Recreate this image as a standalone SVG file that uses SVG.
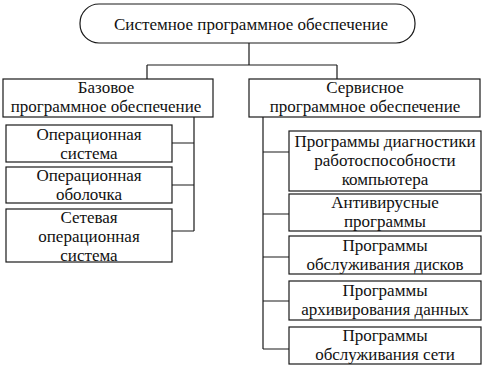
<svg xmlns="http://www.w3.org/2000/svg" width="486" height="372" viewBox="0 0 486 372">
<style>
.b{fill:#fff;stroke:#1a1a1a;stroke-width:1.2}
.t{font-family:"Liberation Serif","Times New Roman","DejaVu Serif",serif;font-size:17px;fill:#111;text-anchor:middle}
.c{fill:none;stroke:#1a1a1a;stroke-width:1.2}
</style>
<rect width="486" height="372" fill="#fff"/>
<g id="connectors">
<path class="c" d="M249,43 V65 M147,65 H337 M147,65 V79 M337,65 V79"/>
<path class="c" d="M194,117 V231 M172,143 H194 M172,185 H194 M172,231 H194"/>
<path class="c" d="M263,117 V349 M263,152 H289 M263,214 H289 M263,257 H289 M263,301 H289 M263,349 H289"/>
</g>
<g id="root"><rect class="b" x="80" y="4" width="335" height="39" rx="19"/><text class="t" x="251" y="30">Системное программное обеспечение</text></g>
<g id="base"><rect class="b" x="3" y="79" width="210" height="38"/><text class="t" x="106" y="93">Базовое</text><text class="t" x="106" y="112">программное обеспечение</text></g>
<g id="service"><rect class="b" x="249" y="79" width="231" height="38"/><text class="t" x="365" y="93">Сервисное</text><text class="t" x="365" y="112">программное обеспечение</text></g>
<g id="os"><rect class="b" x="6" y="125" width="166" height="37"/><text class="t" x="89" y="140">Операционная</text><text class="t" x="89" y="159">система</text></g>
<g id="shell"><rect class="b" x="6" y="167" width="166" height="36"/><text class="t" x="89" y="181">Операционная</text><text class="t" x="89" y="200">оболочка</text></g>
<g id="netos"><rect class="b" x="6" y="209" width="166" height="53"/><text class="t" x="89" y="223">Сетевая</text><text class="t" x="89" y="242">операционная</text><text class="t" x="89" y="261">система</text></g>
<g id="diag"><rect class="b" x="289" y="131" width="192" height="60"/><text class="t" x="385" y="147">Программы диагностики</text><text class="t" x="385" y="166">работоспособности</text><text class="t" x="385" y="185">компьютера</text></g>
<g id="antivirus"><rect class="b" x="289" y="194" width="192" height="37"/><text class="t" x="385" y="208">Антивирусные</text><text class="t" x="385" y="227">программы</text></g>
<g id="disks"><rect class="b" x="289" y="236" width="192" height="38"/><text class="t" x="385" y="251">Программы</text><text class="t" x="385" y="270">обслуживания дисков</text></g>
<g id="archive"><rect class="b" x="289" y="281" width="192" height="39"/><text class="t" x="385" y="296">Программы</text><text class="t" x="385" y="315">архивирования данных</text></g>
<g id="network"><rect class="b" x="289" y="327" width="192" height="37"/><text class="t" x="385" y="341">Программы</text><text class="t" x="385" y="360">обслуживания сети</text></g>
</svg>
